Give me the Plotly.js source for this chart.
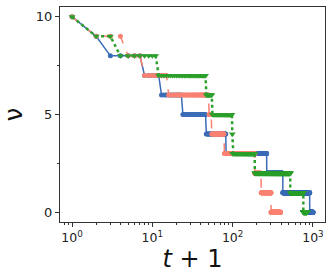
<!DOCTYPE html>
<html>
<head>
<meta charset="utf-8">
<script src="https://cdn.plot.ly/plotly-3.0.1.min.js"></script>
<style>html,body{margin:0;padding:0;background:#fff;}#chart{width:335px;height:279px;}</style>
</head>
<body>
<div id="chart"></div>
<script>
// Step-function data: each level nu holds from its start (t+1) until the next start.
const levels = [10, 9, 8, 7, 6, 5, 4, 3, 2, 1, 0];
const blueStarts   = [1, 2, 3, 8, 13, 24, 47, 83, 266, 422, 911];
const blueLast = 1000;
const salmonStarts = [1, 2, 5, 8, 16, 51, 55, 79, 189, 227, 301];
const salmonLast = 395;
const greenStarts  = [1, 2, 4, 12, 47, 56, 99, 100, 189, 522, 760];
const greenLast = 845;

const xTickVals = [1, 10, 100, 1000];
const xTickText = ['10<sup>0</sup>', '10<sup>1</sup>', '10<sup>2</sup>', '10<sup>3</sup>'];
const yTickVals = [0, 5, 10];
const yTickText = ['0', '5', '10'];

function expand(starts, last) {
  const x = [], y = [];
  for (let i = 0; i < starts.length; i++) {
    const end = (i + 1 < starts.length) ? starts[i + 1] - 1 : last;
    for (let t = starts[i]; t <= end; t++) { x.push(t); y.push(levels[i]); }
  }
  return {x, y};
}

const b = expand(blueStarts, blueLast);
const s = expand(salmonStarts, salmonLast);
const g = expand(greenStarts, greenLast);

const traces = [
  {x: b.x, y: b.y, mode: 'lines+markers', line: {color: '#3b6cb7', width: 1.5},
   marker: {symbol: 'circle', size: 5, color: '#3b6cb7'}},
  {x: s.x, y: s.y, mode: 'lines+markers', line: {color: '#fa8072', width: 1.5, dash: 'dash'},
   marker: {symbol: 'circle', size: 5, color: '#fa8072'}},
  {x: g.x, y: g.y, mode: 'lines+markers', line: {color: '#2ca02c', width: 2.5, dash: 'dot'},
   marker: {symbol: 'triangle-down', size: 6, color: '#2ca02c'}}
];

const layout = {
  width: 335, height: 279,
  margin: {l: 60, r: 10, t: 7, b: 57},
  paper_bgcolor: '#fff', plot_bgcolor: '#fff',
  showlegend: false,
  font: {family: 'DejaVu Sans', size: 12, color: '#222'},
  xaxis: {
    type: 'log', range: [-0.15, 3.15],
    tickvals: xTickVals, ticktext: xTickText,
    ticks: 'outside', ticklen: 4, tickwidth: 1, tickcolor: '#333',
    minor: {dtick: 'D1', ticks: 'outside', ticklen: 2, tickwidth: 1, tickcolor: '#333'},
    showgrid: false, zeroline: false,
    showline: true, mirror: true, linecolor: '#333', linewidth: 1,
    tickfont: {size: 12.5},
    title: {text: '<i>t</i> + 1', font: {size: 24, family: 'DejaVu Sans', color: '#111'}, standoff: 2}
  },
  yaxis: {
    range: [-0.5, 10.5],
    tickvals: yTickVals, ticktext: yTickText,
    ticks: 'outside', ticklen: 4, tickwidth: 1, tickcolor: '#333',
    minor: {tickvals: [2.5, 7.5], ticks: 'outside', ticklen: 2, tickwidth: 1, tickcolor: '#333'},
    showgrid: false, zeroline: false,
    showline: true, mirror: true, linecolor: '#333', linewidth: 1,
    tickfont: {size: 13},
    title: {text: 'ν', font: {size: 24, family: 'DejaVu Sans', color: '#111'}, standoff: 12}
  }
};

Plotly.newPlot('chart', traces, layout, {displayModeBar: false, staticPlot: true});
</script>
</body>
</html>
